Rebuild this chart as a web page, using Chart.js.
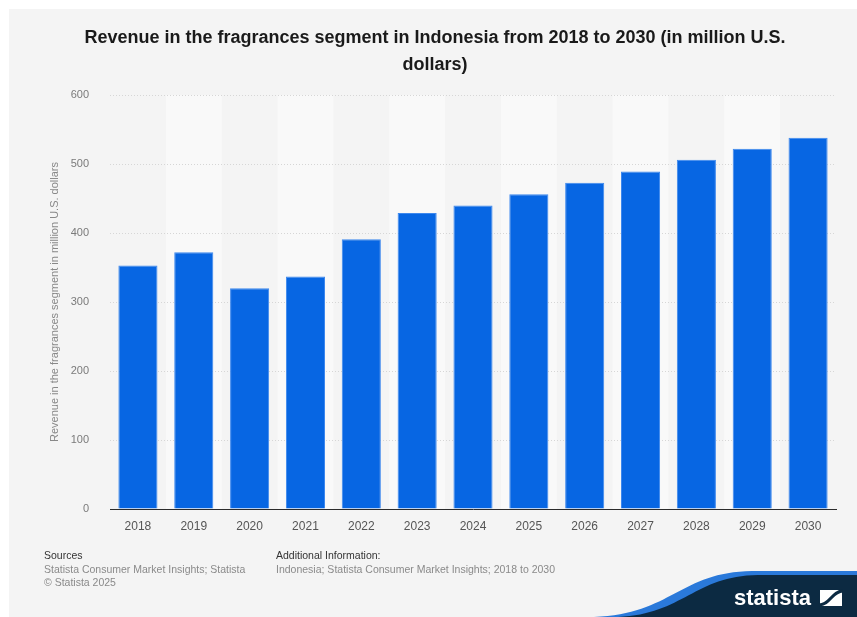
<!DOCTYPE html>
<html>
<head>
<meta charset="utf-8">
<title>Fragrances revenue Indonesia</title>
<script src="https://cdn.jsdelivr.net/npm/chart.js@4.4.0/dist/chart.umd.min.js"></script>
<style>
  html, body { margin: 0; padding: 0; background: #fff; }
  #wrap { width: 857px; height: 617px; }
</style>
</head>
<body>
<div id="wrap"><canvas id="revenue" width="857" height="617"></canvas></div>
<script>
// revenue in million U.S. dollars
const years = ["2018", "2019", "2020", "2021", "2022", "2023", "2024", "2025", "2026", "2027", "2028", "2029", "2030"];
const revenue = [353, 372, 320, 337, 391, 429, 440, 456, 473, 489, 506, 522, 538];
const yMin = 0;
const yMax = 600;
const yStep = 100;

const titleLines = ["Revenue in the fragrances segment in Indonesia from 2018 to 2030 (in million U.S.", "dollars)"];
const yTitle = "Revenue in the fragrances segment in million U.S. dollars";

const FONT = '"Liberation Sans", Arial, Helvetica, sans-serif';

// background panel, column bands, heading, footer and logo
const frame = {
  id: "frame",
  beforeDraw(chart) {
    const { ctx, chartArea, scales } = chart;
    ctx.save();
    ctx.fillStyle = "#ffffff";
    ctx.fillRect(0, 0, chart.width, chart.height);
    ctx.fillStyle = "#f4f4f4";
    ctx.fillRect(9, 9, chart.width - 9, chart.height - 9);

    const x = scales.x;
    const w = chartArea.width / years.length;
    ctx.fillStyle = "#f9f9f9";
    for (let i = 1; i < years.length; i += 2) {
      const cx = x.getPixelForValue(i);
      ctx.fillRect(cx - w / 2, chartArea.top, w, chartArea.bottom - chartArea.top);
    }
    ctx.restore();
  },
  afterDraw(chart) {
    const ctx = chart.ctx;
    ctx.save();
    // heading
    ctx.fillStyle = "#1a1a1a";
    ctx.font = "bold 18px " + FONT;
    ctx.textAlign = "center";
    ctx.textBaseline = "middle";
    ctx.fillText(titleLines[0], 435, 38);
    ctx.fillText(titleLines[1], 435, 65);

    // footer
    ctx.textAlign = "left";
    ctx.font = "10.5px " + FONT;
    ctx.fillStyle = "#333";
    ctx.fillText("Sources", 44, 556);
    ctx.fillText("Additional Information:", 276, 556);
    ctx.fillStyle = "#8a8a8a";
    ctx.fillText("Statista Consumer Market Insights; Statista", 44, 570);
    ctx.fillText("\u00a9 Statista 2025", 44, 583);
    ctx.fillText("Indonesia; Statista Consumer Market Insights; 2018 to 2030", 276, 570);

    // logo swoosh
    ctx.fillStyle = "#2a79da";
    ctx.beginPath();
    ctx.moveTo(594, 617);
    ctx.bezierCurveTo(672, 614, 680, 572, 752, 571);
    ctx.lineTo(857, 571);
    ctx.lineTo(857, 617);
    ctx.closePath();
    ctx.fill();
    ctx.fillStyle = "#0c2a42";
    ctx.beginPath();
    ctx.moveTo(618, 617);
    ctx.bezierCurveTo(684, 614, 694, 576, 758, 575);
    ctx.lineTo(857, 575);
    ctx.lineTo(857, 617);
    ctx.closePath();
    ctx.fill();

    ctx.fillStyle = "#ffffff";
    ctx.font = "bold 22px " + FONT;
    ctx.textBaseline = "alphabetic";
    ctx.fillText("statista", 734, 605);

    // logo mark
    ctx.fillRect(820, 590, 22, 16);
    ctx.strokeStyle = "#0c2a42";
    ctx.lineWidth = 3;
    ctx.beginPath();
    ctx.moveTo(819, 605);
    ctx.bezierCurveTo(830, 605, 832, 591, 843, 591);
    ctx.stroke();
    ctx.restore();
  }
};

new Chart(document.getElementById("revenue"), {
  type: "bar",
  data: {
    labels: years,
    datasets: [{
      label: "Revenue",
      data: revenue,
      backgroundColor: "#0766e3",
      borderColor: "#3d88ee",
      borderWidth: 1,
      borderSkipped: "bottom",
      categoryPercentage: 1,
      barPercentage: 0.7
    }]
  },
  options: {
    responsive: false,
    animation: false,
    layout: { padding: { top: 95, right: 21, bottom: 0, left: 0 } },
    plugins: {
      legend: { display: false },
      tooltip: { enabled: false }
    },
    scales: {
      x: {
        afterFit(scale) { scale.height = 108; },
        grid: { display: false, drawTicks: false },
        border: { display: true, color: "#2b2b2b", width: 1 },
        ticks: {
          color: "#555",
          font: { family: FONT, size: 12 },
          padding: 10
        }
      },
      y: {
        min: yMin,
        max: yMax,
        afterFit(scale) { scale.width = 110; },
        grid: {
          drawTicks: false,
          color: (c) => (c.tick && c.tick.value === 0 ? "rgba(0,0,0,0)" : "#d6d6d6")
        },
        border: { display: false, dash: [1, 2] },
        ticks: {
          stepSize: yStep,
          color: "#7a7a7a",
          font: { family: FONT, size: 11 },
          padding: 21
        },
        title: {
          display: true,
          text: yTitle,
          color: "#888",
          font: { family: FONT, size: 11 },
          padding: { top: 48, bottom: 0 }
        }
      }
    }
  },
  plugins: [frame]
});
</script>
</body>
</html>
